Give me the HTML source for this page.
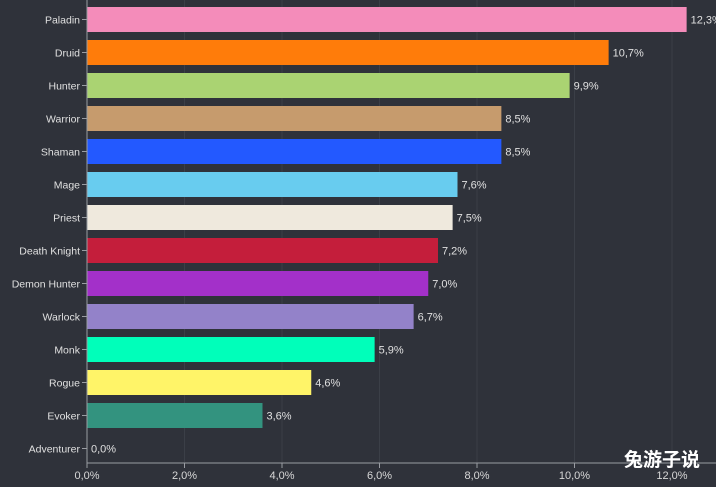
<!DOCTYPE html>
<html><head><meta charset="utf-8"><style>
html,body{margin:0;padding:0;background:#2f323a;width:716px;height:487px;overflow:hidden}
svg{display:block;font-family:"Liberation Sans",sans-serif}
</style></head><body>
<svg id="chart" width="716" height="487" xmlns="http://www.w3.org/2000/svg">
<rect x="0" y="0" width="716" height="487" fill="#2f323a"/>
<g id="grid"></g><g id="bars"></g><g id="axes"></g>
<text x="700" y="466" text-anchor="end" font-size="19" font-weight="bold" fill="#ffffff" font-family="'Liberation Sans','Noto Sans CJK SC',sans-serif">兔游子说</text>
</svg>
<script>
const categories=["Paladin","Druid","Hunter","Warrior","Shaman","Mage","Priest","Death Knight","Demon Hunter","Warlock","Monk","Rogue","Evoker","Adventurer"];
const values=[12.3,10.7,9.9,8.5,8.5,7.6,7.5,7.2,7.0,6.7,5.9,4.6,3.6,0.0];
const colors=["#f48cba","#ff7c0a","#aad372","#c69b6d","#2359ff","#68ccef","#efe9dd","#c41e3b","#a330c9","#9382c9","#00ffba","#fff468","#33937f","#888888"];
const ticks=[0,2,4,6,8,10,12];
const NS="http://www.w3.org/2000/svg";
const x0=87,pxPer=48.75,rowTop=7,rowStep=33,barH=25,axisY=463;
const xs=v=>x0+v*pxPer;
const yc=i=>rowTop+barH/2+i*rowStep;
const fmt=v=>v.toFixed(1).replace('.',',')+'%';
function mk(tag,attrs,parent,txt){const e=document.createElementNS(NS,tag);for(const k in attrs)e.setAttribute(k,attrs[k]);if(txt!==undefined)e.textContent=txt;parent.appendChild(e);return e;}
const grid=document.getElementById('grid'),bars=document.getElementById('bars'),axes=document.getElementById('axes');
ticks.forEach(t=>{
 const g=mk('line',{x1:xs(t),x2:xs(t),y1:0,y2:axisY,stroke:'#3b3f47','stroke-width':1},grid);
 
 
 const tk=mk('line',{x1:xs(t),x2:xs(t),y1:axisY,y2:axisY+5,stroke:'#9a9da3'},axes);
 
 
 const lb=mk('text',{x:xs(t),y:axisY+16,'text-anchor':'middle','font-size':11,fill:'#d8d8d8'},axes,fmt(t));
 
 
});
categories.forEach((c,i)=>{
 const y=yc(i);
 if(values[i]>0){
  const r=mk('rect',{x:x0,y:y-barH/2,width:xs(values[i])-x0,height:barH,fill:colors[i]},bars);
  
  
 }
 const v=mk('text',{x:xs(values[i])+4,y:y+4,'font-size':11,fill:'#e0e0e0'},bars,fmt(values[i]));
 
 
 const tk=mk('line',{x1:x0-5,x2:x0,y1:y,y2:y,stroke:'#9a9da3'},axes);
 
 
 const l=mk('text',{x:x0-7,y:y+4,'text-anchor':'end','font-size':10.5,fill:'#e0e0e0'},axes,c);
 
 
});
const ya=mk('line',{x1:x0,x2:x0,y1:0,y2:axisY,stroke:'#9a9da3'},axes);


const xa=mk('line',{x1:x0,x2:716,y1:axisY,y2:axisY,stroke:'#9a9da3'},axes);


</script>
</body></html>
